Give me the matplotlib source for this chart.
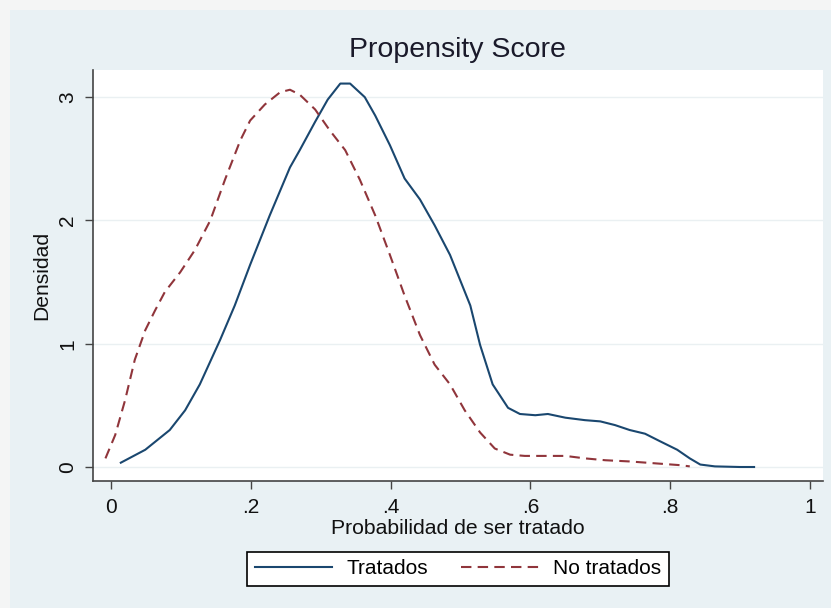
'''
propensity score density plot, treated vs untreated
'''
import matplotlib
matplotlib.use("Agg")
import matplotlib.pyplot as plt
from matplotlib.patches import Rectangle

plt.rcParams['font.family'] = ['Liberation Sans', 'DejaVu Sans']

# kernel density
x_tratados = [0.014, 0.049, 0.084, 0.106, 0.127, 0.156, 0.177, 0.199, 0.227, 0.256,
              0.270, 0.292, 0.310, 0.328, 0.342, 0.363, 0.378, 0.399, 0.420, 0.442,
              0.463, 0.485, 0.514, 0.528, 0.546, 0.568, 0.585, 0.607, 0.625, 0.650,
              0.678, 0.700, 0.721, 0.742, 0.764, 0.785, 0.810, 0.828, 0.843, 0.864,
              0.900, 0.920]
y_tratados = [0.035, 0.14, 0.30, 0.46, 0.67, 1.03, 1.31, 1.64, 2.04, 2.43,
              2.57, 2.80, 2.98, 3.11, 3.11, 3.00, 2.85, 2.61, 2.34, 2.17,
              1.96, 1.72, 1.31, 0.99, 0.67, 0.48, 0.43, 0.42, 0.43, 0.40,
              0.38, 0.37, 0.34, 0.30, 0.27, 0.21, 0.14, 0.07, 0.02, 0.005,
              0.0, 0.0]

x_no_tratados = [-0.008, 0.006, 0.020, 0.034, 0.049, 0.063, 0.077, 0.099, 0.120, 0.142,
                 0.163, 0.185, 0.199, 0.220, 0.242, 0.256, 0.270, 0.292, 0.313, 0.335,
                 0.356, 0.378, 0.399, 0.420, 0.442, 0.463, 0.485, 0.506, 0.528, 0.549,
                 0.571, 0.592, 0.621, 0.650, 0.678, 0.707, 0.742, 0.778, 0.814, 0.828]
y_no_tratados = [0.07, 0.26, 0.54, 0.87, 1.11, 1.27, 1.42, 1.58, 1.76, 2.00,
                 2.33, 2.65, 2.81, 2.94, 3.04, 3.06, 3.02, 2.90, 2.73, 2.57,
                 2.33, 2.04, 1.72, 1.39, 1.07, 0.83, 0.67, 0.46, 0.28, 0.15,
                 0.10, 0.09, 0.09, 0.09, 0.07, 0.055, 0.045, 0.03, 0.015, 0.005]

x_ticks = [0, 0.2, 0.4, 0.6, 0.8, 1]
x_ticklabels = ['0', '.2', '.4', '.6', '.8', '1']
y_ticks = [0, 1, 2, 3]

navy = '#1a476f'
maroon = '#90353b'
bg = '#e9f1f4'
W, H = 831, 608

fig = plt.figure(figsize=(W / 100, H / 100), dpi=100, facecolor='#f4f5f5')
fig.patches.append(Rectangle((10 / W, 0), 1, 1 - 10 / H, transform=fig.transFigure,
                             facecolor=bg, edgecolor='none', zorder=-10))

ax = fig.add_axes([93 / W, (H - 481) / H, (823 - 93) / W, (481 - 70) / H])
ax.set_facecolor('white')

ax.plot(x_tratados, y_tratados, color=navy, lw=1.5, label='Tratados')
ax.plot(x_no_tratados, y_no_tratados, color=maroon, lw=1.5,
        linestyle=(0, (5, 3)), label='No tratados')

ax.set_xlim(-0.0258, 1.0186)
ax.set_ylim(-0.1135, 3.22)
ax.set_xticks(x_ticks)
ax.set_xticklabels(x_ticklabels)
ax.set_yticks(y_ticks)
ax.set_yticklabels([str(v) for v in y_ticks], rotation=90, va='center')
ax.tick_params(axis='both', length=6, width=1, color='#444444',
               labelsize=15, labelcolor='#111111')
ax.tick_params(axis='x', pad=6.5)
ax.tick_params(axis='y', pad=5.5)
ax.grid(axis='y', color='#eaf0f2', lw=1)
ax.set_axisbelow(True)

for side in ['top', 'right']:
    ax.spines[side].set_visible(False)
for side in ['left', 'bottom']:
    ax.spines[side].set_color('#444444')
    ax.spines[side].set_linewidth(1.2)

ax.set_xlabel('Probabilidad de ser tratado', fontsize=15.2, labelpad=1, color='#111111')
ax.set_ylabel('Densidad', fontsize=15.2, labelpad=5, color='#111111')

fig.text(457 / W, 1 - 50 / H, 'Propensity Score', ha='center', va='center',
         fontsize=20.5, color='#1a1a2a')

leg = fig.legend(loc='center', bbox_to_anchor=(458 / W, 1 - 569 / H), ncol=2,
                 fontsize=15, frameon=True, fancybox=False, edgecolor='black',
                 framealpha=1, handlelength=3.7, handletextpad=0.7,
                 columnspacing=1.6, borderpad=0.35)
leg.get_frame().set_linewidth(1.2)

fig.savefig('out.png', dpi=100, facecolor=fig.get_facecolor())
